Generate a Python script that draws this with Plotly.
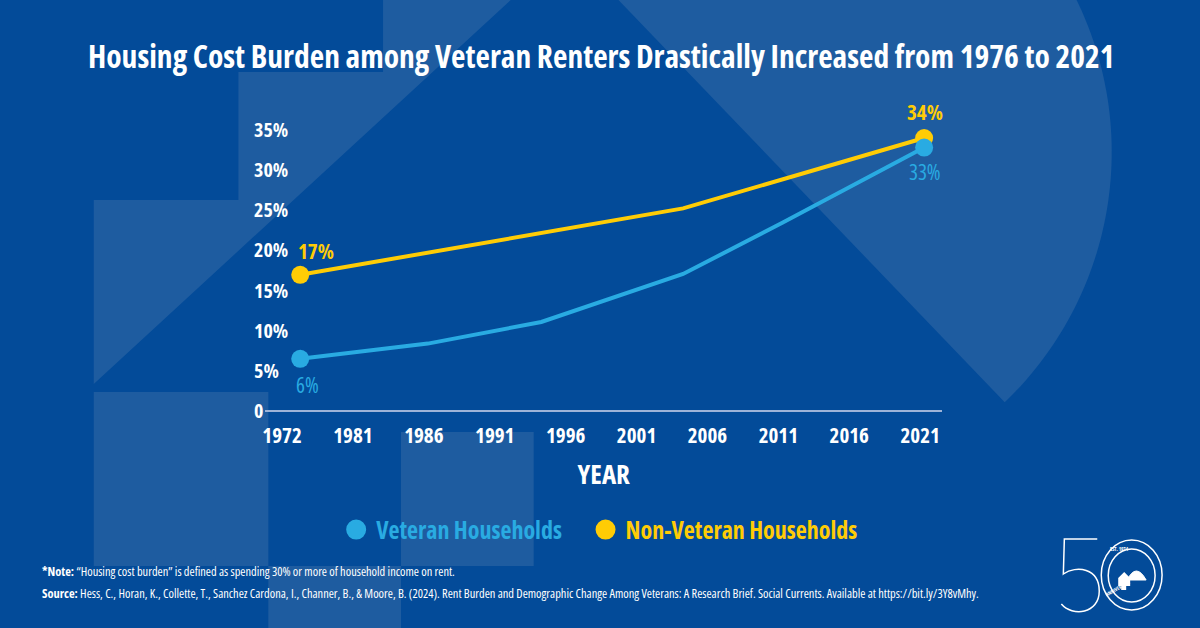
import numpy as np
import plotly.graph_objects as go

# ---------------- data ----------------
vet_years = [1977, 1986, 1994, 2004, 2011, 2021]
vet_values = [6.4, 8.3, 11.0, 17.0, 23.4, 32.8]
nonvet_years = [1977, 2004, 2021]
nonvet_values = [16.9, 25.2, 34.0]
x_tick_years = [1976, 1981, 1986, 1991, 1996, 2001, 2006, 2011, 2016, 2021]
x_tick_labels = ["1972", "1981", "1986", "1991", "1996", "2001", "2006", "2011", "2016", "2021"]
y_tick_values = [0, 5, 10, 15, 20, 25, 30, 35]
y_tick_labels = ["0", "5%", "10%", "15%", "20%", "25%", "30%", "35%"]
series_names = ["Veteran Households", "Non-Veteran Households"]

# ---------------- style ----------------
W, H = 1200, 628
BG = "#034B99"
LIGHT = "#1E5CA0"
BLUE = "#29ABE2"
YELLOW = "#FFCC05"
FONT = "Open Sans, Roboto, sans-serif"


def cond(t, bold=False):
    inner = f"<b>{t}</b>" if bold else t
    return f"<span style='font-stretch:condensed'>{inner}</span>"


def px(x):
    return x / W


def py(y):
    return 1 - y / H


def path(points):
    return "M " + " L ".join(f"{px(x):.5f},{py(y):.5f}" for x, y in points) + " Z"


fig = go.Figure()

# background decorative shapes
shapes = []
polyA = [(381, 0), (509, 0), (91, 384), (91, 200), (236, 200), (236, 72), (381, 72)]
shapes.append(dict(type="path", path=path(polyA), xref="paper", yref="paper",
                   fillcolor=LIGHT, line=dict(width=0), layer="below"))
for (x0, y0, x1, y1) in [(91, 392, 266, 566), (399, 432, 532, 566), (266, 566, 399, 628)]:
    shapes.append(dict(type="rect", x0=px(x0), x1=px(x1), y0=py(y1), y1=py(y0), xref="paper", yref="paper",
                       fillcolor=LIGHT, line=dict(width=0), layer="below"))
cx, cy, r = 766, 152, 345.5
a0 = np.arctan2(402 - cy, 1004 - cx)
a1 = np.arctan2(0 - cy, 1076 - cx)
angs = np.linspace(a0, a1, 60)
arc = [(cx + r * np.cos(a), cy + r * np.sin(a)) for a in angs]
polyB = [(617, 0)] + arc
shapes.append(dict(type="path", path=path(polyB), xref="paper", yref="paper",
                   fillcolor=LIGHT, line=dict(width=0), layer="below"))

# 50th anniversary logo
shapes.append(dict(type="path",
                   path=(f"M {px(1097)},{py(539)} L {px(1064)},{py(539)} L {px(1063)},{py(574)} "
                         f"C {px(1076)},{py(565)} {px(1099)},{py(568)} {px(1099)},{py(591)} "
                         f"C {px(1099)},{py(614)} {px(1072)},{py(617)} {px(1061)},{py(604)}"),
                   xref="paper", yref="paper", line=dict(color="white", width=1.5)))
shapes.append(dict(type="circle", x0=px(1101), x1=px(1162), y0=py(610), y1=py(540), xref="paper", yref="paper",
                   line=dict(color="white", width=1.5)))
shapes.append(dict(type="circle", x0=px(1108), x1=px(1155), y0=py(602), y1=py(549), xref="paper", yref="paper",
                   line=dict(color="white", width=1.5)))
shapes.append(dict(type="path",
                   path=(f"M {px(1127)},{py(580)} Q {px(1136)},{py(562)} {px(1146)},{py(580)} Z"),
                   xref="paper", yref="paper", fillcolor="white", line=dict(color="white", width=1)))
shapes.append(dict(type="path",
                   path=path([(1118, 578), (1124, 572), (1130, 578), (1130, 586), (1126, 586), (1126, 590),
                              (1121, 590), (1121, 586), (1118, 586)]),
                   xref="paper", yref="paper", fillcolor="white", line=dict(width=0)))


# ---------------- traces ----------------
def end_sizes(n, s=18):
    return [s] + [0] * (n - 2) + [s]


fig.add_trace(go.Scatter(x=nonvet_years, y=nonvet_values, mode="lines+markers", name=series_names[1],
                         line=dict(color=YELLOW, width=4),
                         marker=dict(size=end_sizes(len(nonvet_years)), color=YELLOW, opacity=1,
                                     line=dict(width=0)),
                         showlegend=False, cliponaxis=False, hoverinfo="skip"))
fig.add_trace(go.Scatter(x=vet_years, y=vet_values, mode="lines+markers", name=series_names[0],
                         line=dict(color=BLUE, width=4),
                         marker=dict(size=end_sizes(len(vet_years)), color=BLUE, opacity=1,
                                     line=dict(width=0)),
                         showlegend=False, cliponaxis=False, hoverinfo="skip"))
# legend entries
fig.add_trace(go.Scatter(x=[None], y=[None], mode="markers", name=cond(series_names[0], True),
                         marker=dict(size=16, color=BLUE, line=dict(color=BLUE, width=4)), legend="legend"))
fig.add_trace(go.Scatter(x=[None], y=[None], mode="markers", name=cond(series_names[1], True),
                         marker=dict(size=16, color=YELLOW, line=dict(color=YELLOW, width=4)), legend="legend2"))

# ---------------- annotations ----------------
ann = []
ann.append(dict(text=cond("Housing Cost Burden among Veteran Renters Drastically Increased from 1976 to 2021", True),
                x=0.5, y=py(55), xref="paper", yref="paper", xanchor="center", yanchor="middle",
                showarrow=False, font=dict(family=FONT, size=31.5, color="white")))
# y tick labels (left aligned, placed on the y scale)
for v, t in zip(y_tick_values, y_tick_labels):
    ann.append(dict(x=px(250), xref="paper", y=v, yref="y", text=cond(t, True), xanchor="left",
                    yanchor="middle", showarrow=False, font=dict(family=FONT, size=20, color="white")))
# data labels
lab_font = dict(family=FONT, size=21)
ann.append(dict(x=vet_years[0], y=vet_values[0], text=cond(f"{round(vet_values[0])}%"), showarrow=False,
                xshift=7, yshift=-26, font=dict(**lab_font, color=BLUE)))
ann.append(dict(x=vet_years[-1], y=vet_values[-1], text=cond(f"{round(vet_values[-1])}%"), showarrow=False,
                xshift=1, yshift=-24, font=dict(**lab_font, color=BLUE)))
ann.append(dict(x=nonvet_years[0], y=nonvet_values[0], text=cond(f"{round(nonvet_values[0])}%", True),
                showarrow=False, xshift=16, yshift=24, font=dict(**lab_font, color=YELLOW)))
ann.append(dict(x=nonvet_years[-1], y=nonvet_values[-1], text=cond(f"{round(nonvet_values[-1])}%", True),
                showarrow=False, xshift=1, yshift=26, font=dict(**lab_font, color=YELLOW)))
# notes
ann.append(dict(text=cond("<b>*Note:</b> \u201cHousing cost burden\u201d is defined as spending 30% or more of "
                          "household income on rent."),
                x=px(37), y=py(571), xref="paper", yref="paper", xanchor="left", yanchor="middle",
                showarrow=False, font=dict(family=FONT, size=12.4, color="white")))
ann.append(dict(text=cond("<b>Source:</b> Hess, C., Horan, K., Collette, T., Sanchez Cardona, I., Channer, B., "
                          "&amp; Moore, B. (2024). Rent Burden and Demographic Change Among Veterans: A Research "
                          "Brief. Social Currents. Available at https://bit.ly/3Y8vMhy."),
                x=px(37), y=py(593), xref="paper", yref="paper", xanchor="left", yanchor="middle",
                showarrow=False, font=dict(family=FONT, size=12.4, color="white")))
# logo texts
ann.append(dict(text=cond("EST. 1974", True), x=px(1131), y=py(554), xref="paper", yref="paper",
                showarrow=False, font=dict(family=FONT, size=5, color="white")))
ann.append(dict(text=cond("ANNIVERSARY", True), x=px(1134), y=py(600), xref="paper", yref="paper",
                showarrow=False, textangle=-30, font=dict(family=FONT, size=5, color="white")))

fig.update_layout(
    width=W, height=H, autosize=False,
    margin=dict(l=0, r=0, t=0, b=0),
    paper_bgcolor=BG, plot_bgcolor="rgba(0,0,0,0)",
    shapes=shapes, annotations=ann,
    font=dict(family=FONT, color="white"),
    xaxis=dict(domain=[px(263), px(941.5)], range=[1974.54, 2022.27],
               tickvals=x_tick_years, ticktext=[cond(t, True) for t in x_tick_labels],
               tickfont=dict(family=FONT, size=21, color="white"),
               showline=True, linecolor="#9DB3D8", linewidth=2, ticks="",
               showgrid=False, zeroline=False, ticklabelshift=-4, ticklabelstandoff=6,
               title=dict(text=cond("YEAR", True), font=dict(family=FONT, size=27, color="white"), standoff=17),
               fixedrange=True),
    yaxis=dict(domain=[py(410), py(114)], range=[0, 37],
               tickvals=y_tick_values, showticklabels=False,
               showline=False, showgrid=False, zeroline=False, ticks="", fixedrange=True),
    legend=dict(orientation="h", x=px(334), y=py(530), xanchor="left", yanchor="middle",
                bgcolor="rgba(0,0,0,0)", font=dict(family=FONT, size=24, color=BLUE)),
    legend2=dict(orientation="h", x=px(584), y=py(530), xanchor="left", yanchor="middle",
                 bgcolor="rgba(0,0,0,0)", font=dict(family=FONT, size=24, color=YELLOW)),
    showlegend=True,
)

fig.write_html("out.html", config={"displayModeBar": False},
               post_script="document.body.style.margin='0';")
